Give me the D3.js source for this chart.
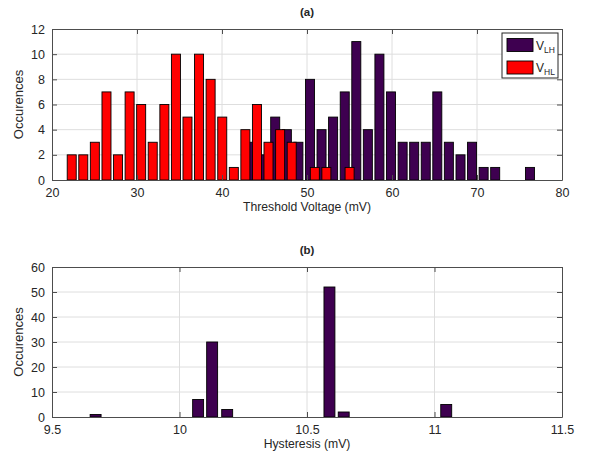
<!DOCTYPE html>
<html>
<head>
<meta charset="utf-8">
<script src="https://cdn.jsdelivr.net/npm/d3@7"></script>
<style>
  body { margin: 0; background: #fff; }
  text { font-family: "Liberation Sans", Arial, sans-serif; fill: #262626; }
</style>
</head>
<body>
<svg id="chart" width="589" height="457"></svg>
<script>
// (a) threshold voltage histograms, bin centres in mV
const vhlCenters = [22.32, 23.68, 25.04, 26.41, 27.77, 29.13, 30.49, 31.85, 33.22, 34.58,
  35.94, 37.30, 38.66, 40.03, 41.39, 42.75, 44.11, 45.47, 46.84, 48.20,
  49.56, 50.92, 52.28, 53.65, 55.01];
const vhlCounts = [2, 2, 3, 7, 2, 7, 6, 3, 6, 10, 5, 10, 8, 5, 1, 4, 6, 3, 4, 3, 0, 1, 1, 0, 1];

const vlhCenters = [43.54, 44.90, 46.26, 47.63, 48.99, 50.35, 51.71, 53.07, 54.44, 55.80,
  57.16, 58.52, 59.88, 61.25, 62.61, 63.97, 65.33, 66.69, 68.06, 69.42,
  70.78, 72.14, 73.50, 74.87, 76.23];
const vlhCounts = [3, 2, 5, 4, 3, 8, 4, 5, 7, 11, 4, 10, 7, 3, 3, 3, 7, 3, 2, 3, 1, 1, 0, 0, 1];

const xTicksA = [20, 30, 40, 50, 60, 70, 80];
const yTicksA = [0, 2, 4, 6, 8, 10, 12];

// (b) hysteresis histogram (non-empty bins only)
const hystCenters = [9.671, 10.073, 10.128, 10.187, 10.588, 10.644, 11.046];
const hystCounts = [1, 7, 30, 3, 52, 2, 5];

const xTicksB = [9.5, 10, 10.5, 11, 11.5];
const yTicksB = [0, 10, 20, 30, 40, 50, 60];

const purple = "#3e0050";
const red = "#ff0000";
const axisCol = "#4d4d4d";
const gridCol = "#dedede";

const svg = d3.select("#chart");

function panel(opts) {
  const { left, right, top, bottom } = opts;
  const x = d3.scaleLinear().domain(opts.xDomain).range([left, right]);
  const y = d3.scaleLinear().domain(opts.yDomain).range([bottom, top]);
  const g = svg.append("g");

  // grid
  g.append("g").selectAll("line")
    .data(opts.xTicks.slice(1, -1))
    .join("line")
    .attr("x1", d => x(d)).attr("x2", d => x(d))
    .attr("y1", top).attr("y2", bottom)
    .attr("stroke", gridCol).attr("stroke-width", 1);
  g.append("g").selectAll("line")
    .data(opts.yTicks.slice(1, -1))
    .join("line")
    .attr("x1", left).attr("x2", right)
    .attr("y1", d => y(d)).attr("y2", d => y(d))
    .attr("stroke", gridCol).attr("stroke-width", 1);

  // bars
  opts.series.forEach(s => {
    const step = s.centers[2] - s.centers[1];
    const w = x(opts.xDomain[0] + step * 0.78) - x(opts.xDomain[0]);
    g.append("g").selectAll("rect")
      .data(s.centers.map((c, i) => ({ c, v: s.counts[i] })).filter(d => d.v > 0))
      .join("rect")
      .attr("x", d => x(d.c) - w / 2)
      .attr("width", w)
      .attr("y", d => y(d.v))
      .attr("height", d => y(0) - y(d.v))
      .attr("fill", s.color)
      .attr("stroke", "#000")
      .attr("stroke-width", 0.9);
  });

  // axes (MATLAB-like inward ticks on all sides)
  const tick = 5;
  const axB = d3.axisBottom(x).tickValues(opts.xTicks).tickSizeInner(-tick).tickSizeOuter(0)
    .tickPadding(8).tickFormat(d3.format("~g"));
  const axT = d3.axisTop(x).tickValues(opts.xTicks).tickSizeInner(-tick).tickSizeOuter(0).tickFormat("");
  const axL = d3.axisLeft(y).tickValues(opts.yTicks).tickSizeInner(-tick).tickSizeOuter(0)
    .tickPadding(7).tickFormat(d3.format("~g"));
  const axR = d3.axisRight(y).tickValues(opts.yTicks).tickSizeInner(-tick).tickSizeOuter(0).tickFormat("");

  [[axB, `translate(0,${bottom})`], [axT, `translate(0,${top})`],
   [axL, `translate(${left},0)`], [axR, `translate(${right},0)`]].forEach(([ax, tr]) => {
    const a = g.append("g").attr("transform", tr).call(ax);
    a.select(".domain").attr("stroke", axisCol);
    a.selectAll(".tick line").attr("stroke", axisCol);
    a.selectAll(".tick text").attr("font-size", 12.5).attr("fill", "#262626")
      .style("font-family", "Liberation Sans, Arial, sans-serif");
  });

  // labels
  g.append("text")
    .attr("x", (left + right) / 2).attr("y", top - 13)
    .attr("text-anchor", "middle").attr("font-size", 11.5).attr("font-weight", "bold")
    .text(opts.title);
  g.append("text")
    .attr("x", (left + right) / 2).attr("y", bottom + 31)
    .attr("text-anchor", "middle").attr("font-size", 12.2)
    .text(opts.xLabel);
  g.append("text")
    .attr("transform", `translate(${left - 29},${(top + bottom) / 2}) rotate(-90)`)
    .attr("text-anchor", "middle").attr("font-size", 13)
    .text("Occurences");

  return { x, y, g };
}

panel({
  left: 52, right: 562, top: 29, bottom: 180,
  xDomain: [20, 80], yDomain: [0, 12],
  xTicks: xTicksA, yTicks: yTicksA,
  series: [
    { centers: vlhCenters, counts: vlhCounts, color: purple },
    { centers: vhlCenters, counts: vhlCounts, color: red }
  ],
  title: "(a)", xLabel: "Threshold Voltage (mV)"
});

panel({
  left: 52, right: 562, top: 267, bottom: 417,
  xDomain: [9.5, 11.5], yDomain: [0, 60],
  xTicks: xTicksB, yTicks: yTicksB,
  series: [{ centers: hystCenters, counts: hystCounts, color: purple }],
  title: "(b)", xLabel: "Hysteresis (mV)"
});

// legend for (a)
const leg = svg.append("g").attr("transform", "translate(502,33)");
leg.append("rect").attr("width", 56).attr("height", 45)
  .attr("fill", "#fff").attr("stroke", "#262626").attr("stroke-width", 1);
[["LH", purple], ["HL", red]].forEach(([sub, col], i) => {
  const yy = 5.5 + i * 22.5;
  leg.append("rect").attr("x", 5).attr("y", yy).attr("width", 26).attr("height", 13)
    .attr("fill", col).attr("stroke", "#000").attr("stroke-width", 0.9);
  const t = leg.append("text").attr("x", 34).attr("y", yy + 11).attr("font-size", 12)
    .attr("fill", "#262626");
  t.append("tspan").attr("fill", "#262626").text("V");
  t.append("tspan").attr("dy", 3).attr("font-size", 8.5).attr("fill", "#262626").text(sub);
});
</script>
</body>
</html>
